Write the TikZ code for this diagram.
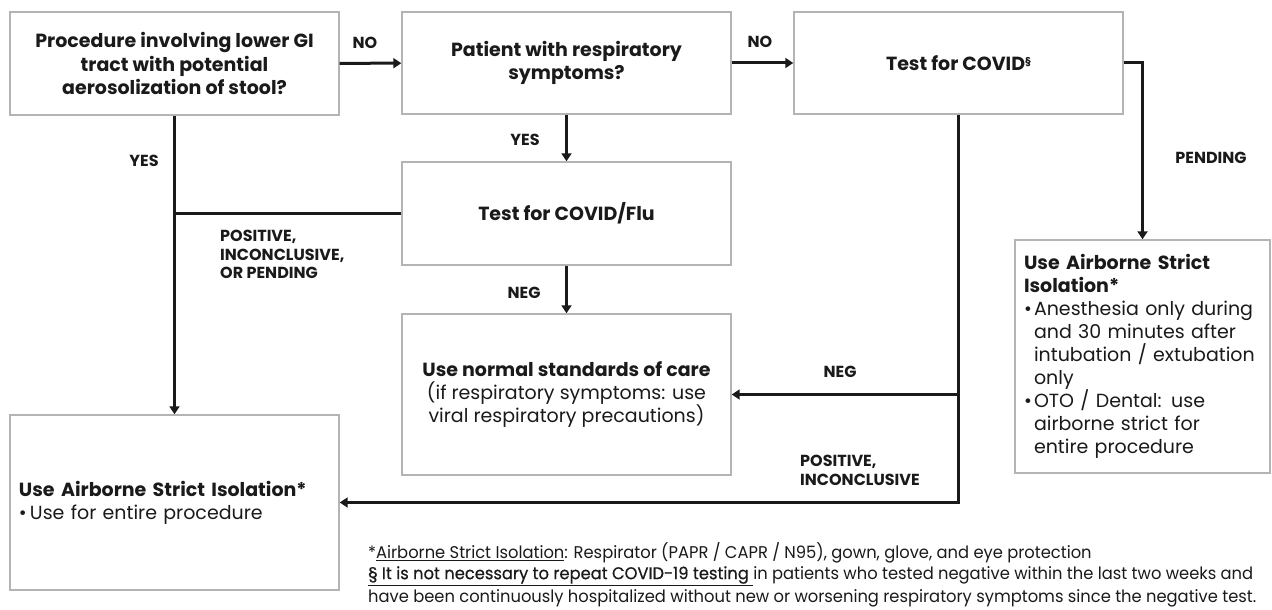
\documentclass[tikz,border=0pt]{standalone}
\usepackage{fontspec}
\setmainfont{Poppins}
\newfontfamily\narrowfont[FakeStretch=0.96]{Poppins}
\newfontfamily\narrowdark[FakeStretch=0.96,FakeBold=0.6]{Poppins}
\usetikzlibrary{arrows.meta}
\definecolor{ink}{HTML}{1A1A1A}
\definecolor{boxgray}{HTML}{B4B4B4}
\begin{document}
\begin{tikzpicture}[x=1pt,y=-1pt,
  box/.style={draw=boxgray, line width=1.4pt, fill=white, inner sep=0pt,
    minimum width=329pt, text=ink},
  conn/.style={line width=3pt, draw=ink, -{Triangle[length=8pt,width=10pt]}},
  plainline/.style={line width=3pt, draw=ink},
  lbl/.style={font=\fontsize{16}{18.5}\selectfont\bfseries, text=ink, inner sep=0pt, align=left},
  qtext/.style={font=\fontsize{19}{23.5}\selectfont\bfseries, align=center},
  btext/.style={font=\fontsize{19}{23}\selectfont},
  foot/.style={font=\narrowfont\fontsize{17}{20}\selectfont, text=ink, inner sep=0pt, anchor=west},
]
\useasboundingbox (0,0) rectangle (1272,610);

% boxes
\node[box, qtext, minimum height=103pt] (b1) at (174.5,63.5)
  {Procedure involving lower GI\\tract with potential\\aerosolization of stool?};
\node[box, qtext, minimum height=102pt] (b2) at (566.5,63)
  {Patient with respiratory\\symptoms?};
\node[box, qtext, minimum height=102pt] (b3) at (958.5,63)
  {Test for COVID\raisebox{6pt}{\fontsize{10}{10}\selectfont\S}};
\node[box, qtext, minimum height=103pt] (b4) at (566.5,213.5)
  {Test for COVID/Flu};
\node[box, btext, minimum height=161pt, align=center] (b5) at (566.5,394.5)
  {{\bfseries Use normal standards of care}\\(if respiratory symptoms: use\\viral respiratory precautions)};
\node[box, btext, minimum height=175pt, text width=311pt, align=left] (bl) at (174.5,502.5)
  {{\bfseries Use Airborne Strict Isolation*}\\\makebox[11pt][l]{•}Use for entire procedure};
\node[box, btext, minimum width=255pt, minimum height=233pt, text width=237pt, align=left] (rb) at (1142.5,356.5)
  {{\bfseries Use Airborne Strict\\Isolation*}\\
   \makebox[10pt][l]{•}Anesthesia only during\\
   \hspace*{10pt}and 30 minutes after\\
   \hspace*{10pt}intubation / extubation\\
   \hspace*{10pt}only\\
   \makebox[10pt][l]{•}OTO / Dental: use\\
   \hspace*{10pt}airborne strict for\\
   \hspace*{10pt}entire procedure};

% connectors
\draw[conn] (b1) -- (b2);
\draw[conn] (b2) -- (b3);
\draw[conn] (b3.east) -| (rb.north);
\draw[conn] (b2) -- (b4);
\draw[conn] (b4) -- (b5);
\draw[conn] (b1) -- (bl);
\draw[plainline] (b4.west) -- (b4.west -| b1.south);
\draw[conn] (b3.south) |- (bl.east);
\draw[conn] (b3.south |- b5.east) -- (b5.east);

% labels
\node[lbl] (lno1) at (365,43) {NO};
\node[lbl] (lno2) at (760,42) {NO};
\node[lbl] (lyes1) at (144,161) {YES};
\node[lbl] (lyes2) at (525,140) {YES};
\node[lbl] (lneg1) at (524,293) {NEG};
\node[lbl, anchor=north west] (lpos1) at (220,230) {POSITIVE,\\INCONCLUSIVE,\\OR PENDING};
\node[lbl] (lpend) at (1211,158) {PENDING};
\node[lbl] (lneg2) at (840,372) {NEG};
\node[lbl, anchor=north west] (lpos2) at (800,455) {POSITIVE,\\INCONCLUSIVE};

% footnotes
\node[foot] (f1) at (368,553) {*\underline{Airborne Strict Isolation}: Respirator (PAPR / CAPR / N95), gown, glove, and eye protection};
\node[foot] (f2) at (368,576) {{\narrowdark\underline{\S{} It is not necessary to repeat COVID-19 testing }}in patients who tested negative within the last two weeks and};
\node[foot] (f3) at (368,598) {have been continuously hospitalized without new or worsening respiratory symptoms since the negative test.};
\end{tikzpicture}
\end{document}
